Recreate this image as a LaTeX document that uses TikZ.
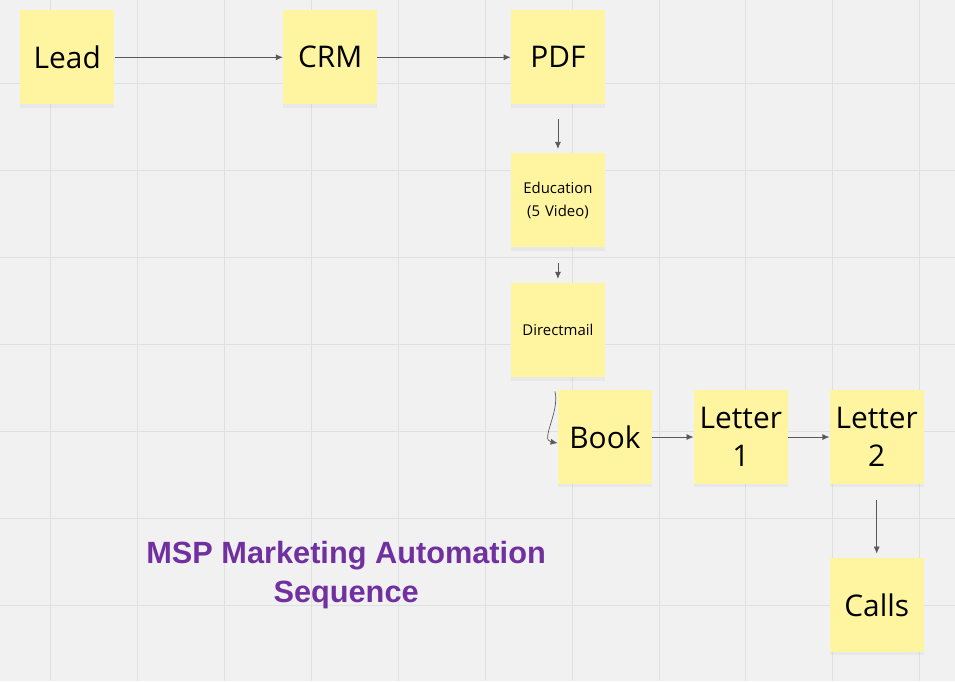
\documentclass[tikz,border=0pt]{standalone}
\usepackage{fontspec}
\setmainfont{Open Sans}
\newfontfamily\titlefont{Liberation Sans}
\usetikzlibrary{shadows,calc,positioning}
\usetikzlibrary{arrows.meta}
\tikzset{>={Latex[width=1.2mm,length=1.4mm]}}
\definecolor{note_yellow}{RGB}{255, 245, 160}
\definecolor{board_bg}{RGB}{241, 241, 241}
\definecolor{board_grid}{RGB}{224, 224, 224}
\definecolor{title_purple}{RGB}{112, 48, 160}

\begin{document}
\begin{tikzpicture}[x=0.02cm,y=-0.02cm,
					note/.style={fill=note_yellow, minimum width=1.88cm, minimum height=1.88cm, text width=1.8cm, inner sep=1pt, align=center,
						drop shadow={opacity=0.08, shadow xshift=0pt, shadow yshift=-2pt}},
					big/.style={font=\fontsize{17}{22}\selectfont},
					small/.style={font=\fontsize{8.5}{13}\selectfont},
					flow/.style={->, draw=black!65, line width=0.4pt},
					title/.style={font=\titlefont\bfseries\fontsize{17.5}{22}\selectfont, text=title_purple, align=center},
				]
				% Board
				\fill[board_bg] (0,0) rectangle (955,681);
				\foreach \gx in {50,137,...,955} \draw[board_grid] (\gx,0) -- (\gx,681);
				\foreach \gy in {83,170,...,681} \draw[board_grid] (0,\gy) -- (955,\gy);
				\useasboundingbox (0,0) rectangle (955,681);

				\node[note,big] (lead) at (67,57) {Lead};
				\node[note,big] (crm) at (330,57) {CRM};
				\node[note,big] (pdf) at (558,57) {PDF};
				\node[note,small] (education) at (558,200) {Education\\(5 Video)};
				\node[note,small] (directmail) at (558,330) {Directmail};
				\node[note,big] (book) at (605,437) {Book};
				\node[note,big] (letter1) at (741,437) {Letter\\1};
				\node[note,big] (letter2) at (877,437) {Letter\\2};
				\node[note,big] (calls) at (877,605) {Calls};

				\draw[flow] (lead) -- (crm);
				\draw[flow] (crm) -- (pdf);
				\draw[flow] ($(pdf.south)+(0,14)$) -- ($(education.north)+(0,-4)$);
				\draw[flow] ($(education.south)+(0,16)$) -- ($(directmail.north)+(0,-4)$);
				\draw[flow] ($(directmail.south)+(-3,14)$) .. controls (560,412) and (540,440) .. ($(book.west)+(0,6)$);
				\draw[flow] (book) -- (letter1);
				\draw[flow] (letter1) -- (letter2);
				\draw[flow] ($(letter2.south)+(0,16)$) -- ($(calls.north)+(0,-4)$);

				% Title
				\node[title] (caption) at (346,575) {MSP Marketing Automation\\Sequence};

			\end{tikzpicture}
\end{document}
